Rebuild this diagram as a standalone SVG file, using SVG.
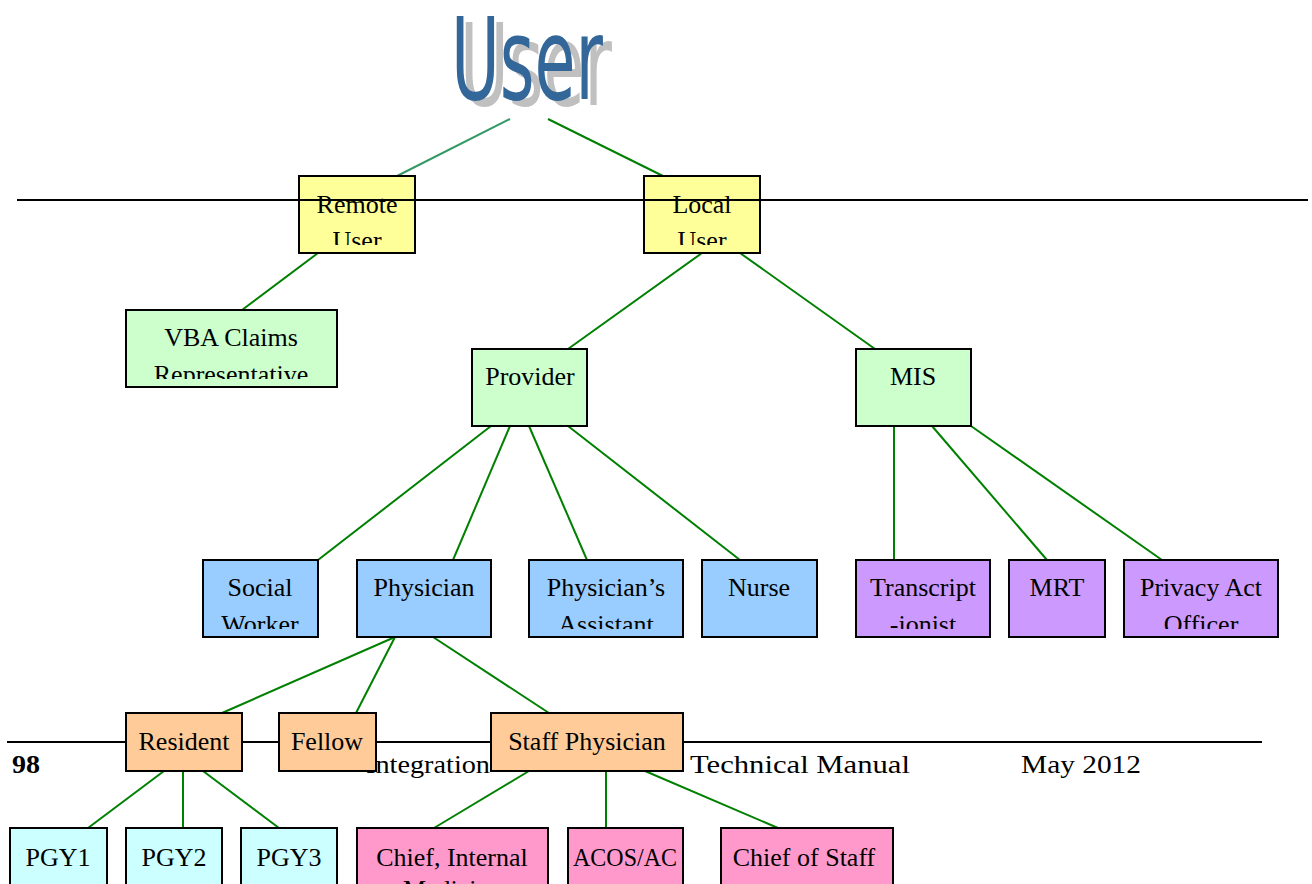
<svg xmlns="http://www.w3.org/2000/svg" width="1312" height="884" viewBox="0 0 1312 884">
<style>
.n rect{stroke:#000;stroke-width:2}
.n text,.ft{font-family:"Liberation Serif","Times New Roman",serif;font-size:26px;fill:#000;text-anchor:middle}
.ft{text-anchor:start;font-size:26px}
.y rect{fill:#ffff99}.g rect{fill:#ccffcc}.b rect{fill:#99ccff}.p rect{fill:#cc99ff}
.o rect{fill:#ffcc99}.c rect{fill:#ccffff}.k rect{fill:#ff99cc}
#connectors line{stroke:#008000;stroke-width:2}
.rule{stroke:#000;stroke-width:2}
.title{font-family:"DejaVu Sans Condensed","DejaVu Sans",sans-serif;font-size:114px}
</style>
<defs>
<clipPath id="c1"><rect x="299" y="176" width="116" height="69"/></clipPath>
<clipPath id="c2"><rect x="644" y="176" width="116" height="69"/></clipPath>
<clipPath id="c3"><rect x="126" y="310" width="211" height="69"/></clipPath>
<clipPath id="c4"><rect x="203" y="560" width="115" height="69"/></clipPath>
<clipPath id="c5"><rect x="529" y="560" width="154" height="69"/></clipPath>
<clipPath id="c6"><rect x="856" y="560" width="134" height="69"/></clipPath>
<clipPath id="c7"><rect x="1124" y="560" width="154" height="69"/></clipPath>
</defs>
<rect width="1312" height="884" fill="#fff"/>
<g id="title">
<text class="title" x="460" y="105" fill="#c0c0c0" textLength="152" lengthAdjust="spacingAndGlyphs">User</text>
<text class="title" x="451" y="99" fill="#336699" textLength="152" lengthAdjust="spacingAndGlyphs">User</text>
</g>
<g id="connectors">
<line x1="510" y1="119" x2="397" y2="176" style="stroke:#339966"/>
<line x1="548" y1="119" x2="663" y2="176"/>
<line x1="318" y1="253" x2="242" y2="310"/>
<line x1="702" y1="253" x2="568" y2="349"/>
<line x1="740" y1="253" x2="875" y2="349"/>
<line x1="491" y1="426" x2="318" y2="560"/>
<line x1="510" y1="426" x2="453" y2="560"/>
<line x1="529" y1="426" x2="587" y2="560"/>
<line x1="568" y1="426" x2="740" y2="560"/>
<line x1="894" y1="426" x2="894" y2="560"/>
<line x1="932" y1="426" x2="1047" y2="560"/>
<line x1="971" y1="426" x2="1162" y2="560"/>
<line x1="395" y1="637" x2="222" y2="713"/>
<line x1="395" y1="637" x2="356" y2="713"/>
<line x1="433" y1="637" x2="549" y2="713"/>
<line x1="164" y1="771" x2="88" y2="828"/>
<line x1="183" y1="771" x2="183" y2="828"/>
<line x1="203" y1="771" x2="279" y2="828"/>
<line x1="529" y1="771" x2="434" y2="828"/>
<line x1="606" y1="771" x2="606" y2="828"/>
<line x1="645" y1="771" x2="778" y2="828"/>
</g>
<g id="remote" class="n y"><rect x="299" y="176" width="116" height="77"/><g clip-path="url(#c1)"><text x="357" y="213">Remote</text><text x="357" y="249">User</text></g></g>
<g id="local" class="n y"><rect x="644" y="176" width="116" height="77"/><g clip-path="url(#c2)"><text x="702" y="213">Local</text><text x="702" y="249">User</text></g></g>
<line class="rule" x1="17" y1="200" x2="1308" y2="200"/>
<g id="vba" class="n g"><rect x="126" y="310" width="211" height="77"/><g clip-path="url(#c3)"><text x="231" y="346">VBA Claims</text><text x="231" y="383">Representative</text></g></g>
<g id="provider" class="n g"><rect x="472" y="349" width="115" height="77"/><text x="530" y="385">Provider</text></g>
<g id="mis" class="n g"><rect x="856" y="349" width="115" height="77"/><text x="913" y="385">MIS</text></g>
<g id="social" class="n b"><rect x="203" y="560" width="115" height="77"/><g clip-path="url(#c4)"><text x="260" y="596">Social</text><text x="260" y="633">Worker</text></g></g>
<g id="physician" class="n b"><rect x="357" y="560" width="134" height="77"/><text x="424" y="596">Physician</text></g>
<g id="pa" class="n b"><rect x="529" y="560" width="154" height="77"/><g clip-path="url(#c5)"><text x="606" y="596">Physician’s</text><text x="606" y="633">Assistant</text></g></g>
<g id="nurse" class="n b"><rect x="702" y="560" width="115" height="77"/><text x="759" y="596">Nurse</text></g>
<g id="transcript" class="n p"><rect x="856" y="560" width="134" height="77"/><g clip-path="url(#c6)"><text x="923" y="596">Transcript</text><text x="923" y="633">-ionist</text></g></g>
<g id="mrt" class="n p"><rect x="1009" y="560" width="96" height="77"/><text x="1057" y="596">MRT</text></g>
<g id="privacy" class="n p"><rect x="1124" y="560" width="154" height="77"/><g clip-path="url(#c7)"><text x="1201" y="596">Privacy Act</text><text x="1201" y="633">Officer</text></g></g>
<line class="rule" x1="7" y1="742" x2="1262" y2="742"/>
<text class="ft" x="12" y="773" font-weight="bold" textLength="28" lengthAdjust="spacingAndGlyphs">98</text>
<text class="ft" x="366" y="773" textLength="124" lengthAdjust="spacingAndGlyphs">Integration</text>
<text class="ft" x="690" y="773" textLength="220" lengthAdjust="spacingAndGlyphs">Technical Manual</text>
<text class="ft" x="1021" y="773" textLength="120" lengthAdjust="spacingAndGlyphs">May 2012</text>
<g id="resident" class="n o"><rect x="126" y="713" width="116" height="58"/><text x="184" y="750">Resident</text></g>
<g id="fellow" class="n o"><rect x="279" y="713" width="97" height="58"/><text x="327" y="750">Fellow</text></g>
<g id="staff" class="n o"><rect x="491" y="713" width="192" height="58"/><text x="587" y="750">Staff Physician</text></g>
<g id="pgy1" class="n c"><rect x="10" y="828" width="97" height="60"/><text x="58" y="866">PGY1</text></g>
<g id="pgy2" class="n c"><rect x="126" y="828" width="96" height="60"/><text x="174" y="866">PGY2</text></g>
<g id="pgy3" class="n c"><rect x="241" y="828" width="96" height="60"/><text x="289" y="866">PGY3</text></g>
<g id="chiefim" class="n k"><rect x="357" y="828" width="191" height="60"/><text x="452" y="866">Chief, Internal</text><text x="452" y="898">Medicine</text></g>
<g id="acos" class="n k"><rect x="568" y="828" width="115" height="60"/><text x="625" y="866" textLength="104" lengthAdjust="spacingAndGlyphs">ACOS/AC</text></g>
<g id="chiefstaff" class="n k"><rect x="721" y="828" width="172" height="60"/><text x="804" y="866">Chief of Staff</text></g>
</svg>
